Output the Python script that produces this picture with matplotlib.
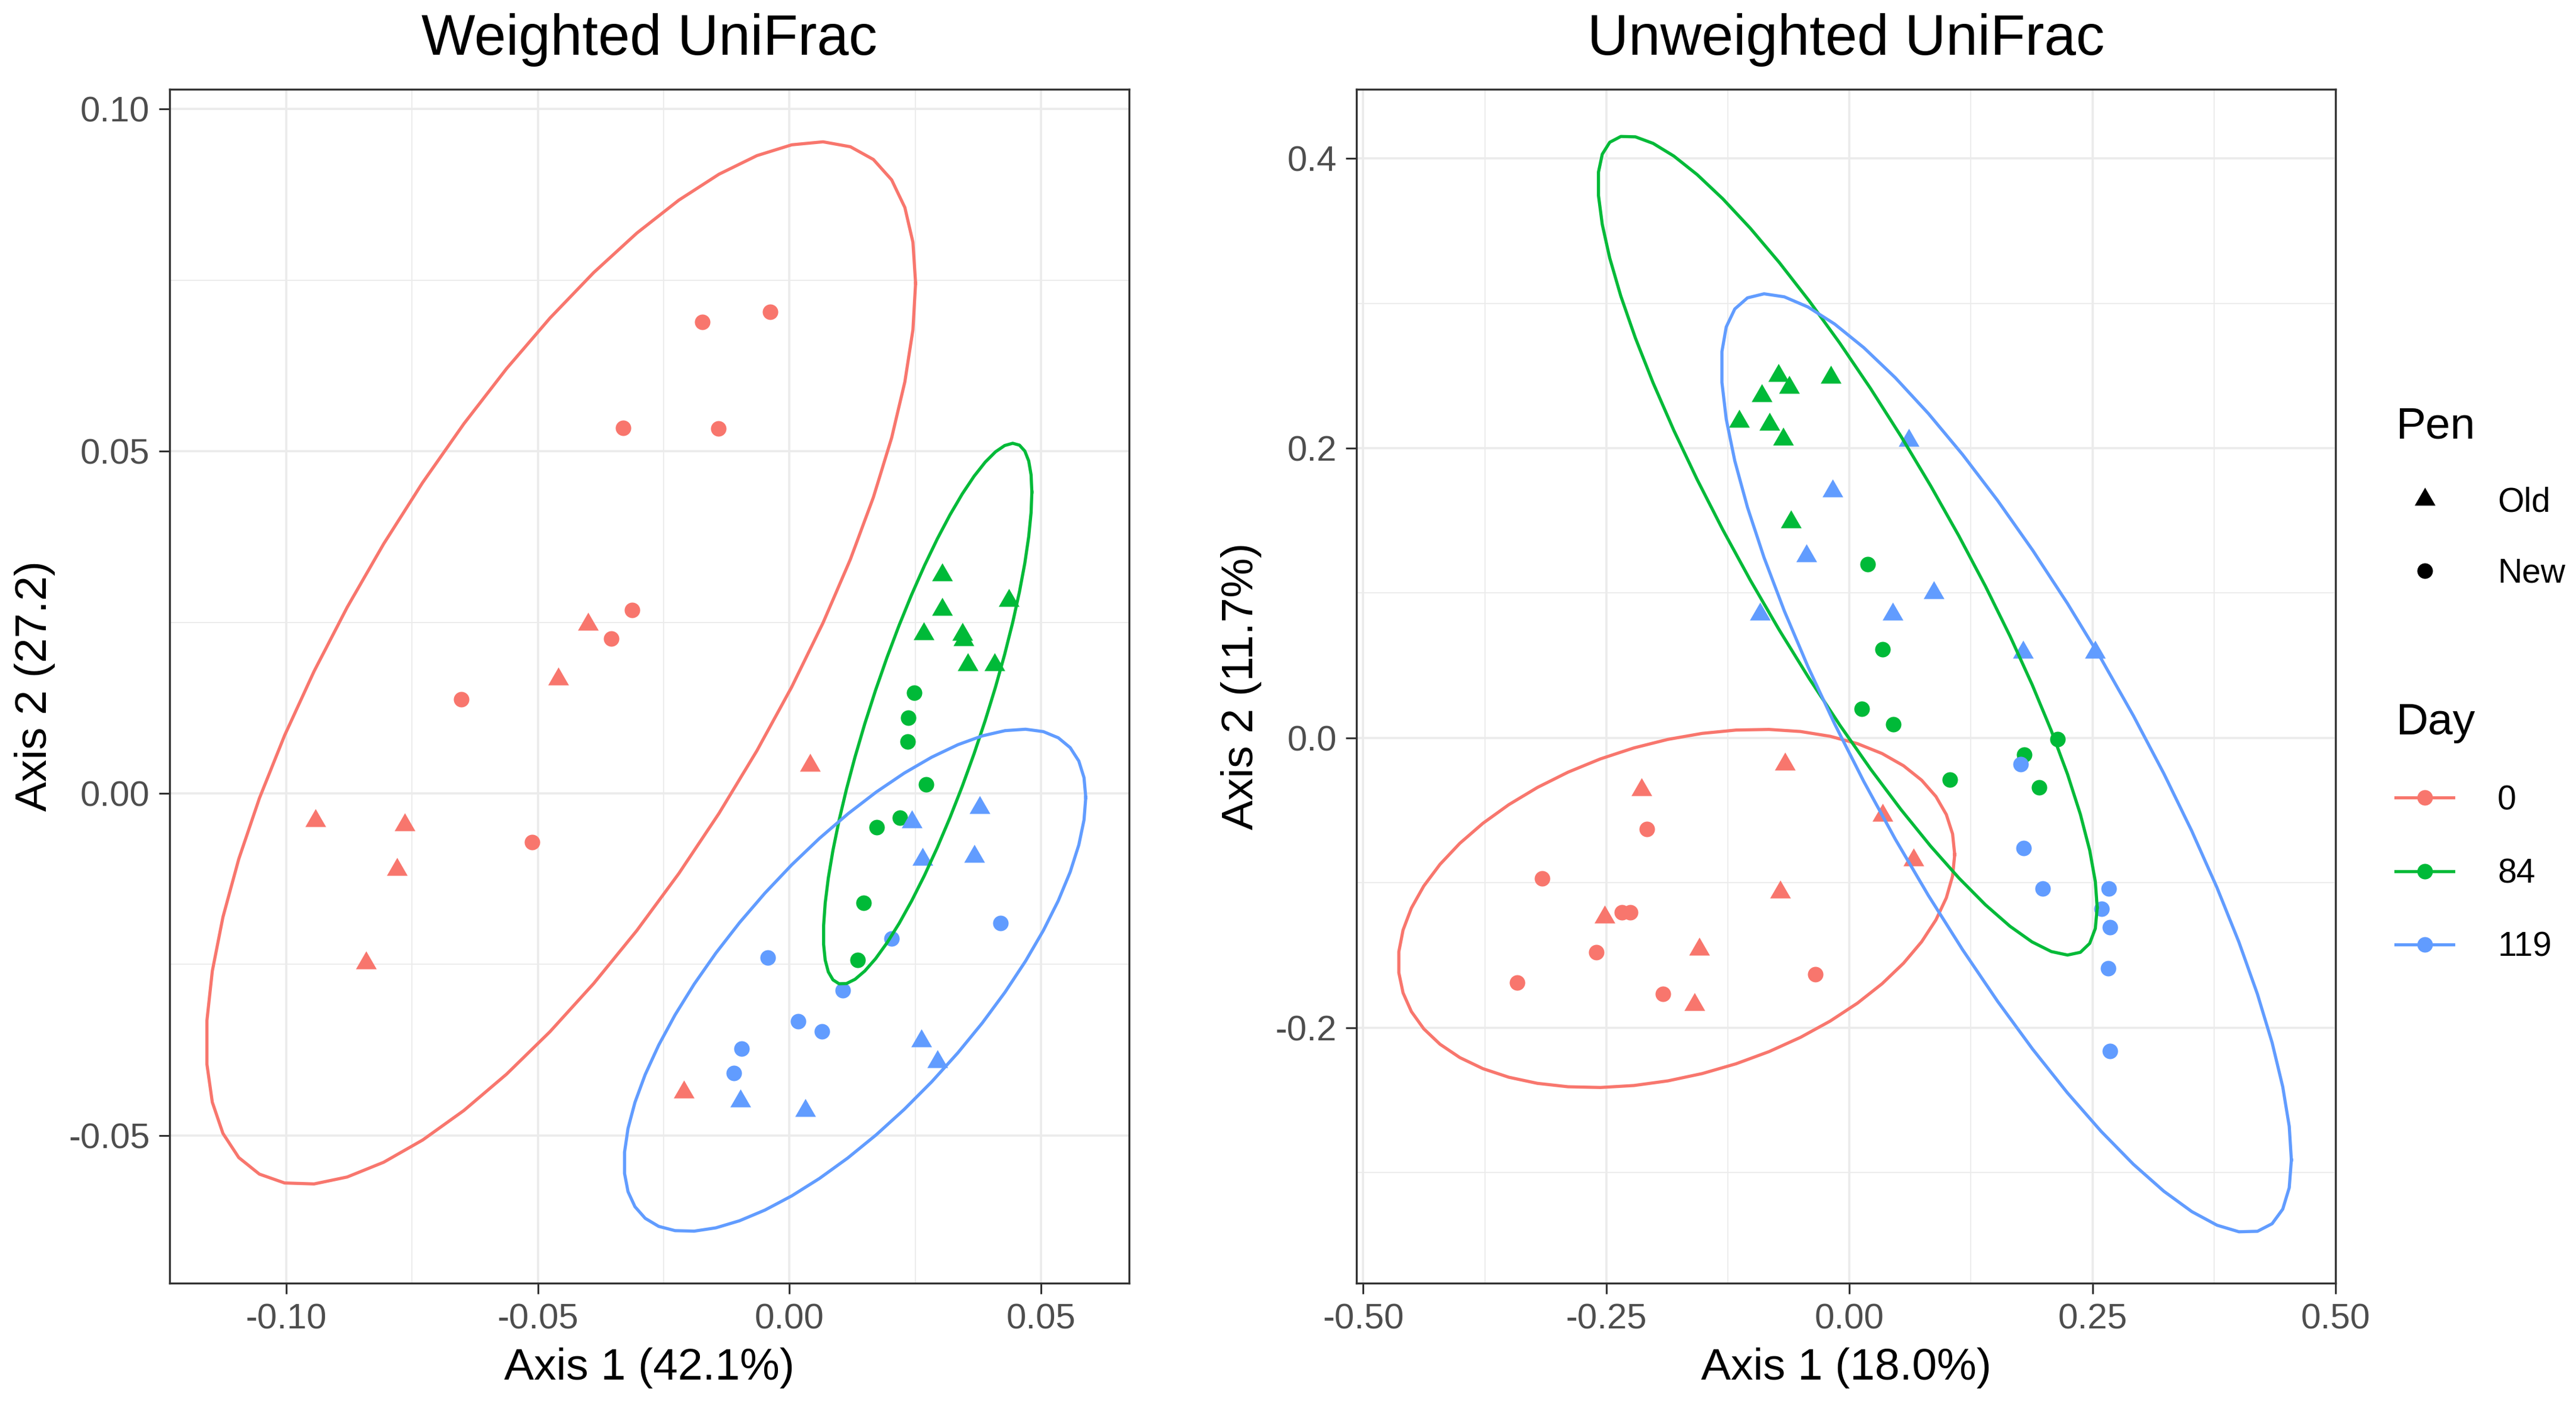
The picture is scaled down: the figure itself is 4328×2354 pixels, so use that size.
import numpy as np
import matplotlib
matplotlib.use("Agg")
import matplotlib.pyplot as plt
from matplotlib.lines import Line2D
from matplotlib.path import Path
from matplotlib.ticker import MultipleLocator, FormatStrFormatter

plt.rcParams["font.family"] = ["Liberation Sans", "DejaVu Sans"]
plt.rcParams["axes.unicode_minus"] = False

# ---- data ----
days = ["0", "84", "119"]
day_colors = ["#F8766D", "#00BA38", "#619CFF"]
pens = ["Old", "New"]

# Weighted UniFrac
wu_x = [-0.0173, -0.0038, -0.0330, -0.0141, -0.0313, -0.0354, -0.0652, -0.0512,
        -0.0400, -0.0459, -0.0942, -0.0765, -0.0780, -0.0842, 0.0041, -0.0210,
        0.0303, 0.0303, 0.0267, 0.0344, 0.0346, 0.0354, 0.0408, 0.0436,
        0.0248, 0.0236, 0.0235, 0.0271, 0.0173, 0.0219, 0.0147, 0.0136,
        0.0243, 0.0378, 0.0264, 0.0367, 0.0262, 0.0294, -0.0097, 0.0032,
        0.0420, 0.0203, -0.0043, 0.0106, 0.0017, 0.0064, -0.0095, -0.0111]
wu_y = [0.0689, 0.0704, 0.0534, 0.0533, 0.0268, 0.0226, 0.0137, -0.0071,
        0.0247, 0.0167, -0.0040, -0.0046, -0.0111, -0.0248, 0.0041, -0.0437,
        0.0319, 0.0269, 0.0233, 0.0232, 0.0224, 0.0188, 0.0188, 0.0282,
        0.0147, 0.0110, 0.0076, 0.0013, -0.0050, -0.0036, -0.0160, -0.0244,
        -0.0042, -0.0021, -0.0097, -0.0092, -0.0362, -0.0392, -0.0450, -0.0464,
        -0.0190, -0.0212, -0.0240, -0.0288, -0.0333, -0.0348, -0.0373, -0.0409]
wu_day = ["0"] * 16 + ["84"] * 16 + ["119"] * 16
wu_pen = (["New"] * 8 + ["Old"] * 8) + (["Old"] * 8 + ["New"] * 8) + (["Old"] * 8 + ["New"] * 8)

# Unweighted UniFrac
uu_x = [-0.2085, -0.3161, -0.2338, -0.2254, -0.2604, -0.3420, -0.1917, -0.0350,
        -0.0661, -0.2137, 0.0343, 0.0661, -0.0712, -0.2519, -0.1541, -0.1593,
        -0.0732, -0.0194, -0.0622, -0.0900, -0.1133, -0.0822, -0.0680, -0.0602,
        0.0188, 0.0343, 0.0130, 0.0453, 0.2144, 0.1800, 0.1036, 0.1950,
        0.0609, -0.0175, -0.0440, -0.0920, 0.0868, 0.0447, 0.1788, 0.2526,
        0.1760, 0.1790, 0.1988, 0.2668, 0.2597, 0.2681, 0.2662, 0.2681]
uu_y = [-0.0629, -0.0970, -0.1205, -0.1205, -0.1478, -0.1688, -0.1766, -0.1630,
        -0.0183, -0.0356, -0.0535, -0.0844, -0.1064, -0.1237, -0.1457, -0.1840,
        0.2500, 0.2490, 0.2420, 0.2360, 0.2186, 0.2165, 0.2060, 0.1490,
        0.1200, 0.0613, 0.0199, 0.0094, -0.0010, -0.0115, -0.0288, -0.0341,
        0.2055, 0.1703, 0.1258, 0.0854, 0.1001, 0.0854, 0.0592, 0.0592,
        -0.0183, -0.0760, -0.1038, -0.1038, -0.1179, -0.1305, -0.1588, -0.2159]
uu_day = ["0"] * 16 + ["84"] * 16 + ["119"] * 16
uu_pen = (["New"] * 8 + ["Old"] * 8) + (["Old"] * 8 + ["New"] * 8) + (["Old"] * 8 + ["New"] * 8)

# equilateral triangle centred on its centroid (like R pch 17)
tri = Path([(0, 1), (-0.866, -0.5), (0.866, -0.5), (0, 1)],
           [Path.MOVETO, Path.LINETO, Path.LINETO, Path.CLOSEPOLY])
pen_marker = {"Old": tri, "New": "o"}
pen_size = {"Old": 14.5, "New": 9.4}


def cov_trob(xy, nu=5, maxit=25, tol=0.01):
    # port of MASS::cov.trob, which stat_ellipse uses
    n, p = xy.shape
    wt = np.ones(n)
    loc = xy.mean(axis=0)
    w = np.sqrt(wt)
    for _ in range(maxit):
        w0 = w
        X = xy - loc
        _, d, vt = np.linalg.svd(np.sqrt(w / w.sum())[:, None] * X, full_matrices=False)
        wX = X @ vt.T @ np.diag(1 / d)
        Q = (wX ** 2).sum(axis=1)
        w = wt * (nu + p) / (nu + Q)
        loc = (w[:, None] * xy).sum(axis=0) / w.sum()
        if np.all(np.abs(w - w0) < tol):
            break
    cov = (np.sqrt(w)[:, None] * X).T @ (np.sqrt(w)[:, None] * X) / wt.sum()
    return loc, cov


def ellipse_path(xy, level=0.95, segments=51):
    loc, cov = cov_trob(xy)
    dfd = len(xy) - 1
    fq = dfd / 2 * ((1 - level) ** (-2 / dfd) - 1)
    radius = np.sqrt(2 * fq)
    upper = np.linalg.cholesky(cov).T
    ang = np.arange(segments + 1) * 2 * np.pi / segments
    circ = np.column_stack([np.cos(ang), np.sin(ang)])
    return loc + radius * circ @ upper


def draw_panel(ax, xs, ys, dlist, plist):
    xs = np.array(xs)
    ys = np.array(ys)
    dlist = np.array(dlist)
    plist = np.array(plist)
    for d, c in zip(days, day_colors):
        for p in pens:
            m = (dlist == d) & (plist == p)
            ax.plot(xs[m], ys[m], linestyle="none", marker=pen_marker[p],
                    ms=pen_size[p], mew=0, color=c, zorder=3)
    for d, c in zip(days, day_colors):
        m = dlist == d
        e = ellipse_path(np.column_stack([xs[m], ys[m]]))
        ax.plot(e[:, 0], e[:, 1], color=c, lw=1.9, zorder=4)


def style(ax, title, xlab, ylab):
    ax.grid(True, which="major", color="#EBEBEB", lw=1.3, zorder=0)
    ax.grid(True, which="minor", color="#EBEBEB", lw=0.65, zorder=0)
    ax.set_axisbelow(True)
    for s in ax.spines.values():
        s.set_color("#333333")
        s.set_linewidth(1.2)
    ax.tick_params(which="major", length=6.5, width=1.1, color="#333333",
                   labelsize=21.5, labelcolor="#4D4D4D", pad=5.5)
    ax.tick_params(which="minor", length=0)
    ax.set_title(title, fontsize=34.5, pad=21)
    ax.set_xlabel(xlab, fontsize=27, labelpad=7)
    ax.set_ylabel(ylab, fontsize=27, labelpad=8)


fig = plt.figure(figsize=(21.64, 11.77), dpi=200)
ax1 = fig.add_axes([0.06585, 0.08411, 0.37246, 0.85217])
ax2 = fig.add_axes([0.52657, 0.08411, 0.38008, 0.85217])

draw_panel(ax1, wu_x, wu_y, wu_day, wu_pen)
ax1.set_xlim(-0.1232, 0.0675)
ax1.set_ylim(-0.0716, 0.1029)
ax1.xaxis.set_major_locator(MultipleLocator(0.05))
ax1.xaxis.set_minor_locator(MultipleLocator(0.025))
ax1.yaxis.set_major_locator(MultipleLocator(0.05))
ax1.yaxis.set_minor_locator(MultipleLocator(0.025))
ax1.xaxis.set_major_formatter(FormatStrFormatter("%.2f"))
ax1.yaxis.set_major_formatter(FormatStrFormatter("%.2f"))
style(ax1, "Weighted UniFrac", "Axis 1 (42.1%)", "Axis 2 (27.2)")

draw_panel(ax2, uu_x, uu_y, uu_day, uu_pen)
ax2.set_xlim(-0.507, 0.500)
ax2.set_ylim(-0.3763, 0.4477)
ax2.xaxis.set_major_locator(MultipleLocator(0.25))
ax2.xaxis.set_minor_locator(MultipleLocator(0.125))
ax2.yaxis.set_major_locator(MultipleLocator(0.2))
ax2.yaxis.set_minor_locator(MultipleLocator(0.1))
ax2.xaxis.set_major_formatter(FormatStrFormatter("%.2f"))
ax2.yaxis.set_major_formatter(FormatStrFormatter("%.1f"))
style(ax2, "Unweighted UniFrac", "Axis 1 (18.0%)", "Axis 2 (11.7%)")

# legends
pen_handles = [Line2D([], [], linestyle="none", marker=pen_marker[p], ms=pen_size[p],
                      mew=0, color="black") for p in pens]
day_handles = [Line2D([], [], color=c, lw=1.9, marker="o", ms=9.4, mew=0)
               for c in day_colors]

leg_kw = dict(loc="upper left", frameon=False, fontsize=20.5, title_fontsize=27,
              alignment="left", borderpad=0, handlelength=1.7, handletextpad=1.3)
lg1 = fig.legend(pen_handles, pens, title="Pen", bbox_to_anchor=(0.9235, 0.7221),
                 labelspacing=1.15, **leg_kw)
lg2 = fig.legend(day_handles, days, title="Day", bbox_to_anchor=(0.9235, 0.5110),
                 labelspacing=1.22, **leg_kw)

fig.savefig("out.png", dpi=200, facecolor="white")
